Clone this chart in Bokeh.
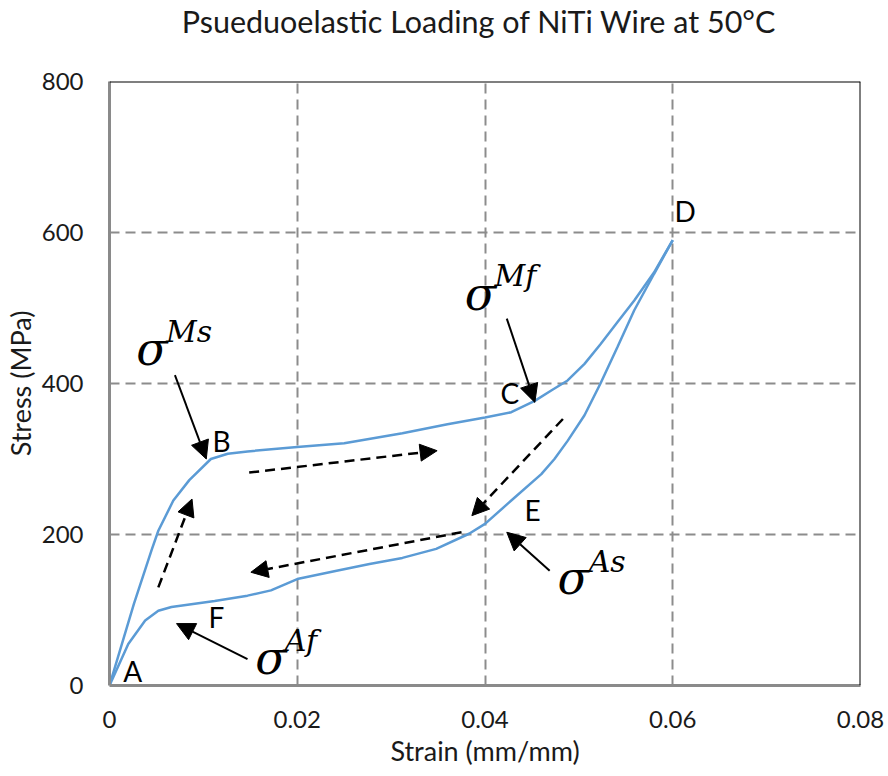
from bokeh.plotting import figure
from bokeh.layouts import column
from bokeh.models import Range1d, FixedTicker, Arrow, NormalHead, Span
from bokeh.core.properties import value
from bokeh.embed import file_html
from bokeh.resources import INLINE

# ---------------- data ----------------
title_text = "Psueduoelastic Loading of NiTi Wire at 50°C"
x_ticks = [0, 0.02, 0.04, 0.06, 0.08]
x_tick_labels = ["0", "0.02", "0.04", "0.06", "0.08"]
y_ticks = [0, 200, 400, 600, 800]

# loading branch A -> B -> C -> D
load_strain = [0.0, 0.0026, 0.0045, 0.0052, 0.0068, 0.0085, 0.0108, 0.0126, 0.0147,
               0.020, 0.025, 0.0312, 0.036, 0.040, 0.0428, 0.0453, 0.0471, 0.0488,
               0.0506, 0.0523, 0.0541, 0.0559, 0.058, 0.060]
load_stress = [0, 108, 180, 205, 245, 272, 300, 307, 310,
               316, 321, 334, 346, 355, 362, 377, 391, 404,
               426, 452, 481, 510, 547, 590]
# unloading branch D -> E -> F -> A
unload_strain = [0.060, 0.058, 0.0559, 0.0541, 0.0523, 0.0506, 0.0488, 0.0474, 0.046,
                 0.0428, 0.040, 0.0383, 0.0348, 0.0312, 0.0277, 0.0242, 0.020, 0.0172,
                 0.0147, 0.0112, 0.0066, 0.0052, 0.0038, 0.002, 0.0]
unload_stress = [590, 545, 497, 448, 400, 358, 324, 300, 280,
                 245, 214, 201, 181, 169, 161, 152, 141, 126,
                 119, 112, 104, 99, 86, 55, 0]

point_labels = ["A", "B", "C", "D", "E", "F"]
point_x = [0.00248, 0.01193, 0.04264, 0.06132, 0.04506, 0.01140]
point_y = [19, 324, 387, 628, 232, 91]

sup_text = ["Ms", "Af", "Mf", "As"]

FONT = "Lato"
TXT = "#1a1a1a"

# ---------------- title strip ----------------
t = figure(width=884, height=40, output_backend="svg", toolbar_location=None,
           x_range=Range1d(0, 884), y_range=Range1d(0, 40),
           x_axis_type=None, y_axis_type=None,
           min_border_left=0, min_border_right=0, min_border_top=0, min_border_bottom=0)
t.outline_line_color = None
t.xgrid.visible = False
t.ygrid.visible = False
t.text(x=[435], y=[20], text=[title_text], text_font=value(FONT),
       text_font_size="30.5px", text_align="center", text_baseline="alphabetic",
       text_color=TXT)

# ---------------- main figure ----------------
p = figure(width=884, height=735, output_backend="svg", toolbar_location=None,
           x_range=Range1d(0, 0.08), y_range=Range1d(0, 800),
           min_border_left=104, min_border_right=24, min_border_top=41,
           min_border_bottom=90)
p.outline_line_color = None

for ax in (p.xaxis[0], p.yaxis[0]):
    ax.major_tick_in = 0
    ax.major_tick_out = 0
    ax.minor_tick_in = 0
    ax.minor_tick_out = 0
    ax.axis_line_color = "#8a8a8a"
    ax.axis_line_width = 3
    ax.major_label_text_font = FONT
    ax.major_label_text_font_size = "24px"
    ax.major_label_text_color = TXT
    ax.axis_label_text_font = FONT
    ax.axis_label_text_font_size = "27px"
    ax.axis_label_text_font_style = "normal"
    ax.axis_label_text_color = TXT

p.xaxis.ticker = FixedTicker(ticks=x_ticks)
p.xaxis.major_label_overrides = {tk: lb for tk, lb in zip(x_ticks, x_tick_labels)}
p.yaxis.ticker = FixedTicker(ticks=y_ticks)
p.xaxis.axis_label = "Strain (mm/mm)"
p.yaxis.axis_label = "Stress (MPa)"
p.xaxis.major_label_standoff = 25
p.xaxis.axis_label_standoff = 3
p.yaxis.major_label_standoff = 26
p.yaxis.axis_label_standoff = 2

for g in (p.xgrid[0], p.ygrid[0]):
    g.grid_line_color = "#8c8c8c"
    g.grid_line_width = 2
    g.grid_line_dash = "10 6"

# top / right black border
p.add_layout(Span(location=0.08, dimension="height", line_color="black", line_width=2))
p.add_layout(Span(location=800, dimension="width", line_color="black", line_width=2))

# curve
p.line(load_strain, load_stress, line_color="#5b9bd5", line_width=2.5)
p.line(unload_strain, unload_stress, line_color="#5b9bd5", line_width=2.5)

# dashed direction arrows (start x, start y, end x, end y)
dash_arrows = [
    (0.0052, 130, 0.00879, 247),
    (0.01488, 282, 0.0349, 311),
    (0.0483, 353, 0.0386, 225),
    (0.0375, 203, 0.01506, 150),
]
for xs, ys, xe, ye in dash_arrows:
    p.add_layout(Arrow(end=NormalHead(size=17, fill_color="black", line_color="black",
                                      line_width=1),
                       x_start=xs, y_start=ys, x_end=xe, y_end=ye,
                       line_color="black", line_width=2.5, line_dash="10 6"))

# solid pointer arrows
solid_arrows = [
    (0.00697, 411, 0.01031, 300),
    (0.0147, 35, 0.00714, 82),
    (0.04232, 486, 0.04531, 375),
    (0.04689, 152, 0.04232, 203),
]
for xs, ys, xe, ye in solid_arrows:
    p.add_layout(Arrow(end=NormalHead(size=18, fill_color="black", line_color="black",
                                      line_width=1),
                       x_start=xs, y_start=ys, x_end=xe, y_end=ye,
                       line_color="black", line_width=2))

# point letters
p.text(x=point_x, y=point_y, text=point_labels, text_font=value(FONT),
       text_font_size="28px", text_align="center", text_baseline="middle",
       text_color="black")

# sigma labels
sig_x = [0.00285, 0.01552, 0.03785, 0.04771]
sig_y = [446, 36, 519, 142]
sup_x = [0.00602, 0.01868, 0.04102, 0.05104]
sup_y = [469, 60, 543, 164]
p.text(x=sig_x, y=sig_y, text=["σ"] * 4, text_font=value("DejaVu Serif"),
       text_font_style="italic", text_font_size="46px", text_align="left",
       text_baseline="alphabetic", text_color="black")
p.text(x=sup_x, y=sup_y, text=sup_text, text_font=value("DejaVu Serif"),
       text_font_style="italic", text_font_size="30px", text_align="left",
       text_baseline="alphabetic", text_color="black")

layout = column(t, p, spacing=0)
open("out.html", "w").write(file_html(layout, INLINE))
